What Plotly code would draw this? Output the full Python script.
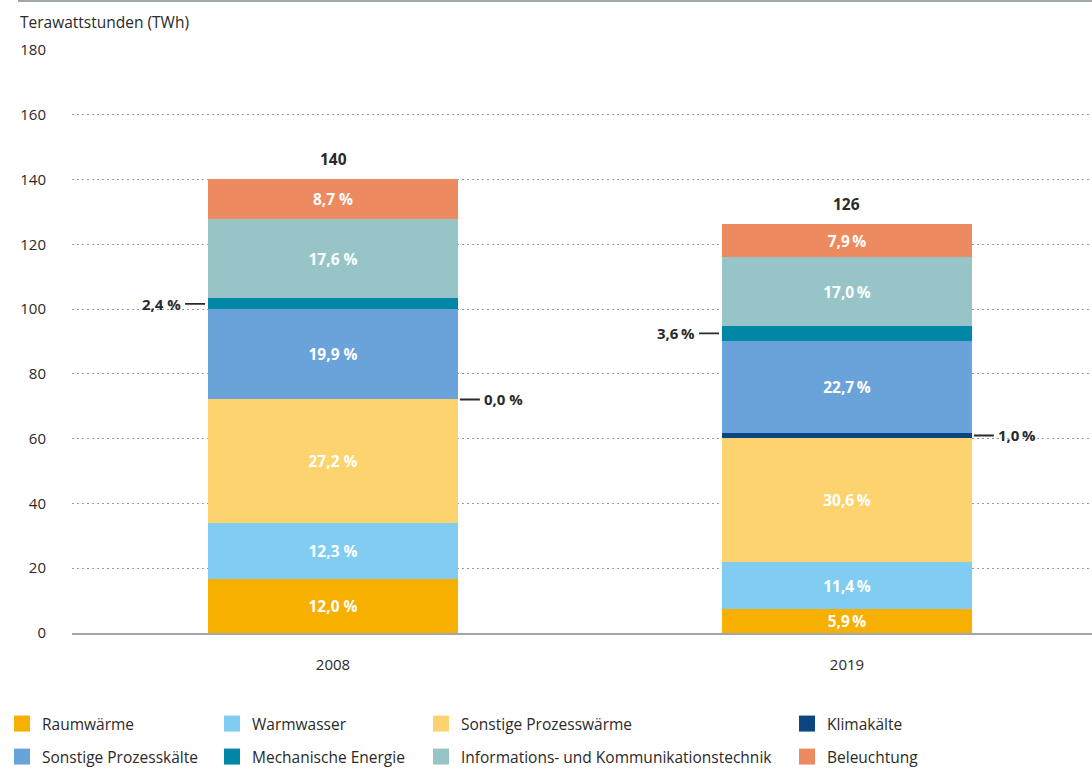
import plotly.graph_objects as go

# --- data -------------------------------------------------------------
years = ["2008", "2019"]
totals_twh = [140, 126]
categories = [
    "Raumwärme",
    "Warmwasser",
    "Sonstige Prozesswärme",
    "Klimakälte",
    "Sonstige Prozesskälte",
    "Mechanische Energie",
    "Informations- und Kommunikationstechnik",
    "Beleuchtung",
]
shares_2008 = [12.0, 12.3, 27.2, 0.0, 19.9, 2.4, 17.6, 8.7]
shares_2019 = [5.9, 11.4, 30.6, 1.0, 22.7, 3.6, 17.0, 7.9]
y_ticks = [0, 20, 40, 60, 80, 100, 120, 140, 160, 180]

# --- styling ----------------------------------------------------------
colors = ["#F8B000", "#80CDF1", "#FDD36F", "#0B4680",
          "#6AA3D9", "#0087A8", "#96C4C7", "#EE8A5F"]
FONT = "Open Sans"
DARK = "#2a2a2a"
W, H = 1092, 770
ML, MR, MT, MB = 72, 0, 50, 137
x_pos = [0, 1]
bar_w = 0.486
x_range = [-0.5078, 1.4767]

# categories labelled outside the bar: (index, side)
outside = {5: "left", 3: "right"}
pct_sep = [" ", "\u2009"]

shares = [shares_2008, shares_2019]


def fmt(v, sep):
    return f"{v:.1f}".replace(".", ",") + sep + "%"


fig = go.Figure()

for ci, cat in enumerate(categories):
    vals = [shares[yi][ci] * totals_twh[yi] / 100 for yi in range(2)]
    texts = []
    for yi in range(2):
        if ci in outside:
            texts.append("")
        else:
            texts.append(fmt(shares[yi][ci], pct_sep[yi]))
    fig.add_trace(go.Bar(
        x=x_pos, y=vals, width=bar_w, name=cat,
        marker=dict(color=colors[ci], line=dict(width=0)),
        text=texts, textposition="inside", insidetextanchor="middle",
        textangle=0, constraintext="none",
        textfont=dict(family=FONT, size=15.5, color="white", weight="bold"),
        showlegend=False, hoverinfo="skip",
    ))

annotations = []

# totals above the bars
for yi in range(2):
    annotations.append(dict(
        x=x_pos[yi], y=totals_twh[yi], text=str(totals_twh[yi]),
        showarrow=False, yanchor="bottom", yshift=8,
        font=dict(family=FONT, size=15.5, color=DARK, weight="bold"),
    ))

# outside labels with leader lines
for yi in range(2):
    for ci, side in outside.items():
        base = sum(shares[yi][:ci]) * totals_twh[yi] / 100
        seg = shares[yi][ci] * totals_twh[yi] / 100
        ymid = base + seg / 2
        left = side == "left"
        annotations.append(dict(
            x=x_pos[yi] + (-bar_w / 2 if left else bar_w / 2), y=ymid,
            ax=-25 if left else 24, ay=0, axref="pixel", ayref="pixel",
            text=fmt(shares[yi][ci], pct_sep[yi]),
            xanchor="right" if left else "left",
            showarrow=True, arrowhead=0, arrowwidth=1.8, arrowcolor=DARK,
            standoff=3 if left else 2, startstandoff=2,
            font=dict(family=FONT, size=15, color=DARK, weight="bold"),
        ))

plot_w = W - ML - MR
plot_h = H - MT - MB

# axis title
annotations.append(dict(
    text="Terawattstunden (TWh)", xref="paper", yref="paper",
    x=(18 - ML) / plot_w, y=(H - 22 - MB) / plot_h,
    xanchor="left", yanchor="middle", showarrow=False,
    font=dict(family=FONT, size=15.5, color=DARK),
))

# legend: one single-entry legend per slot, 4 columns x 2 rows,
# placed relative to the whole figure
col_px = [2, 212, 421, 787]
row_px = [724, 757]
legend_layout = {}
for ci, cat in enumerate(categories):
    row, col = divmod(ci, 4)
    key = "legend" if ci == 0 else f"legend{ci + 1}"
    fig.add_trace(go.Scatter(
        x=[None], y=[None], mode="markers", name=cat,
        marker=dict(symbol="square", size=16, color=colors[ci]),
        legend=key, showlegend=True, hoverinfo="skip",
    ))
    legend_layout[key] = dict(
        xref="container", yref="container",
        x=col_px[col] / W, y=1 - row_px[row] / H,
        xanchor="left", yanchor="middle",
        bgcolor="rgba(0,0,0,0)", borderwidth=0,
        font=dict(family=FONT, size=15.5, color=DARK),
    )

fig.update_layout(
    width=W, height=H,
    margin=dict(l=ML, r=MR, t=MT, b=MB, autoexpand=False),
    paper_bgcolor="white", plot_bgcolor="white",
    barmode="stack", bargap=0,
    font=dict(family=FONT, size=15, color=DARK),
    xaxis=dict(
        range=x_range, tickvals=x_pos, ticktext=years,
        showgrid=False, zeroline=False,
        showline=True, linecolor="#9ea7ae", linewidth=1.5,
        ticks="", ticklabelstandoff=17,
        tickfont=dict(family=FONT, size=15, color=DARK),
    ),
    yaxis=dict(
        range=[0, 180], tickvals=y_ticks,
        showgrid=True, gridcolor="#9a9a9a", gridwidth=1,
        griddash="1.5px,3.5px",
        zeroline=False, showline=False, ticks="",
        ticklabelstandoff=25,
        tickfont=dict(family=FONT, size=15, color=DARK),
    ),
    annotations=annotations,
    shapes=[
        dict(type="line", xref="paper", yref="paper",
             x0=(18 - ML) / plot_w, x1=1, y0=(H - 1 - MB) / plot_h,
             y1=(H - 1 - MB) / plot_h,
             line=dict(color="#9ea7ae", width=2)),
    ],
    **legend_layout,
)

fig.write_html("out.html")
